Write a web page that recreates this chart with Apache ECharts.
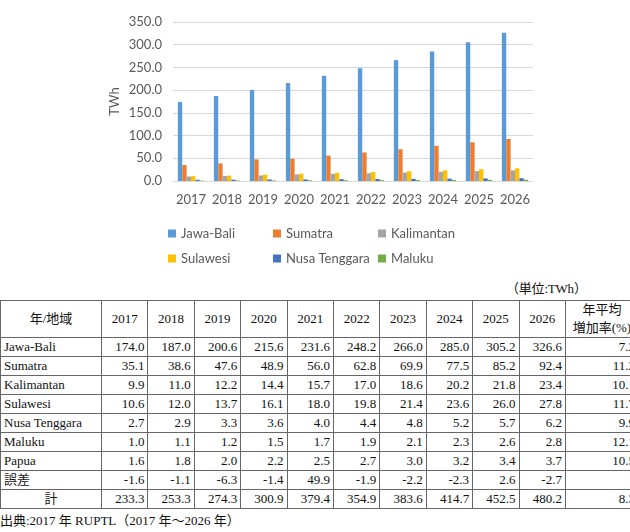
<!DOCTYPE html>
<html><head><meta charset="utf-8">
<script src="https://cdn.jsdelivr.net/npm/echarts@6/dist/echarts.min.js"></script>
<style>
html,body{margin:0;padding:0;width:630px;height:532px;overflow:hidden;background:#fff;}
#chart{position:absolute;left:0;top:0;width:630px;height:275px;}
#unit{position:absolute;left:506px;top:278px;font:13px 'Liberation Serif','Noto Sans CJK JP',serif;letter-spacing:-0.2px;color:#111;}
#tbl{position:absolute;left:0;top:300px;border-collapse:collapse;table-layout:fixed;width:638px;font:13px 'Liberation Serif','Noto Sans CJK JP',serif;color:#111;}
#tbl td{border:1px solid #666;padding:0 3px;height:18px;line-height:18px;text-align:right;white-space:nowrap;overflow:hidden;}
#tbl tr.h td{height:36px;line-height:18px;text-align:center;}
#tbl td.n{text-align:left;}
#tbl td.c{text-align:center;}
#src{position:absolute;left:0;top:510px;font:13px 'Liberation Serif','Noto Sans CJK JP',serif;color:#111;}
</style></head>
<body>
<div id="chart"></div>
<div id="unit">（単位:TWh）</div>
<table id="tbl"></table>
<div id="src">出典:2017 年 RUPTL（2017 年～2026 年）</div>
<script>
const years = ['2017','2018','2019','2020','2021','2022','2023','2024','2025','2026'];
const jawaBali = [174.0,187.0,200.6,215.6,231.6,248.2,266.0,285.0,305.2,326.6];
const sumatra = [35.1,38.6,47.6,48.9,56.0,62.8,69.9,77.5,85.2,92.4];
const kalimantan = [9.9,11.0,12.2,14.4,15.7,17.0,18.6,20.2,21.8,23.4];
const sulawesi = [10.6,12.0,13.7,16.1,18.0,19.8,21.4,23.6,26.0,27.8];
const nusaTenggara = [2.7,2.9,3.3,3.6,4.0,4.4,4.8,5.2,5.7,6.2];
const maluku = [1.0,1.1,1.2,1.5,1.7,1.9,2.1,2.3,2.6,2.8];
const papua = [1.6,1.8,2.0,2.2,2.5,2.7,3.0,3.2,3.4,3.7];
const gosa = [-1.6,-1.1,-6.3,-1.4,49.9,-1.9,-2.2,-2.3,2.6,-2.7];
const total = [233.3,253.3,274.3,300.9,379.4,354.9,383.6,414.7,452.5,480.2];
const growth = ['7.2','11.2','10.1','11.7','9.9','12.1','10.5','','8.3'];
const yTicks = [0,50,100,150,200,250,300,350];

const seriesNames = ['Jawa-Bali','Sumatra','Kalimantan','Sulawesi','Nusa Tenggara','Maluku'];
const seriesData = [jawaBali,sumatra,kalimantan,sulawesi,nusaTenggara,maluku];
const colors = ['#5B9BD5','#ED7D31','#A5A5A5','#FFC000','#4472C4','#70AD47'];

const chart = echarts.init(document.getElementById('chart'));
const fontFam = 'Lato, "Noto Sans", sans-serif';
const legendPos = [[163,222],[268,222],[373,222],[163,247],[268,247],[373,247]];
chart.setOption({
  animation:false,
  color:colors,
  textStyle:{fontFamily:fontFam},
  grid:{left:173,right:97,top:22,height:159},
  legend: seriesNames.map((n,i)=>({data:[n],left:legendPos[i][0],top:legendPos[i][1],icon:'rect',itemWidth:8,itemHeight:8,itemGap:5,
      textStyle:{color:'#595959',fontSize:13,fontFamily:fontFam}})),
  xAxis:{type:'category',data:years,axisTick:{show:false},axisLine:{lineStyle:{color:'#D9D9D9'}},
    axisLabel:{color:'#595959',fontSize:13,margin:12,interval:0,fontFamily:fontFam}},
  yAxis:{type:'value',min:yTicks[0],max:yTicks[yTicks.length-1],interval:50,name:'TWh',nameLocation:'middle',nameGap:52,nameRotate:90,
    nameMoveOverlap:false,
    nameTextStyle:{color:'#595959',fontSize:13,fontFamily:fontFam},
    axisLine:{show:false},axisTick:{show:false},
    axisLabel:{color:'#595959',fontSize:13,margin:11,formatter:v=>v.toFixed(1),fontFamily:fontFam},
    splitLine:{lineStyle:{color:'#D9D9D9'}}},
  series: seriesNames.map((n,i)=>({name:n,type:'bar',data:seriesData[i],barGap:'0%',barCategoryGap:'27%'}))
});

// table
const rows = [
  ['Jawa-Bali',jawaBali],['Sumatra',sumatra],['Kalimantan',kalimantan],['Sulawesi',sulawesi],
  ['Nusa Tenggara',nusaTenggara],['Maluku',maluku],['Papua',papua],['誤差',gosa],['計',total]
];
let html = '<colgroup><col style="width:101px">' + years.map(()=>'<col style="width:46.4px">').join('') + '<col style="width:73px"></colgroup>';
html += '<tr class="h"><td>年/地域</td>' + years.map(y=>'<td>'+y+'</td>').join('') + '<td>年平均<br>増加率(%)</td></tr>';
rows.forEach((r,i)=>{
  html += '<tr><td class="'+(r[0]==='計'?'c':'n')+'">'+r[0]+'</td>' + r[1].map(v=>'<td>'+v.toFixed(1)+'</td>').join('') + '<td>'+growth[i]+'</td></tr>';
});
document.getElementById('tbl').innerHTML = html;
</script>
</body></html>
